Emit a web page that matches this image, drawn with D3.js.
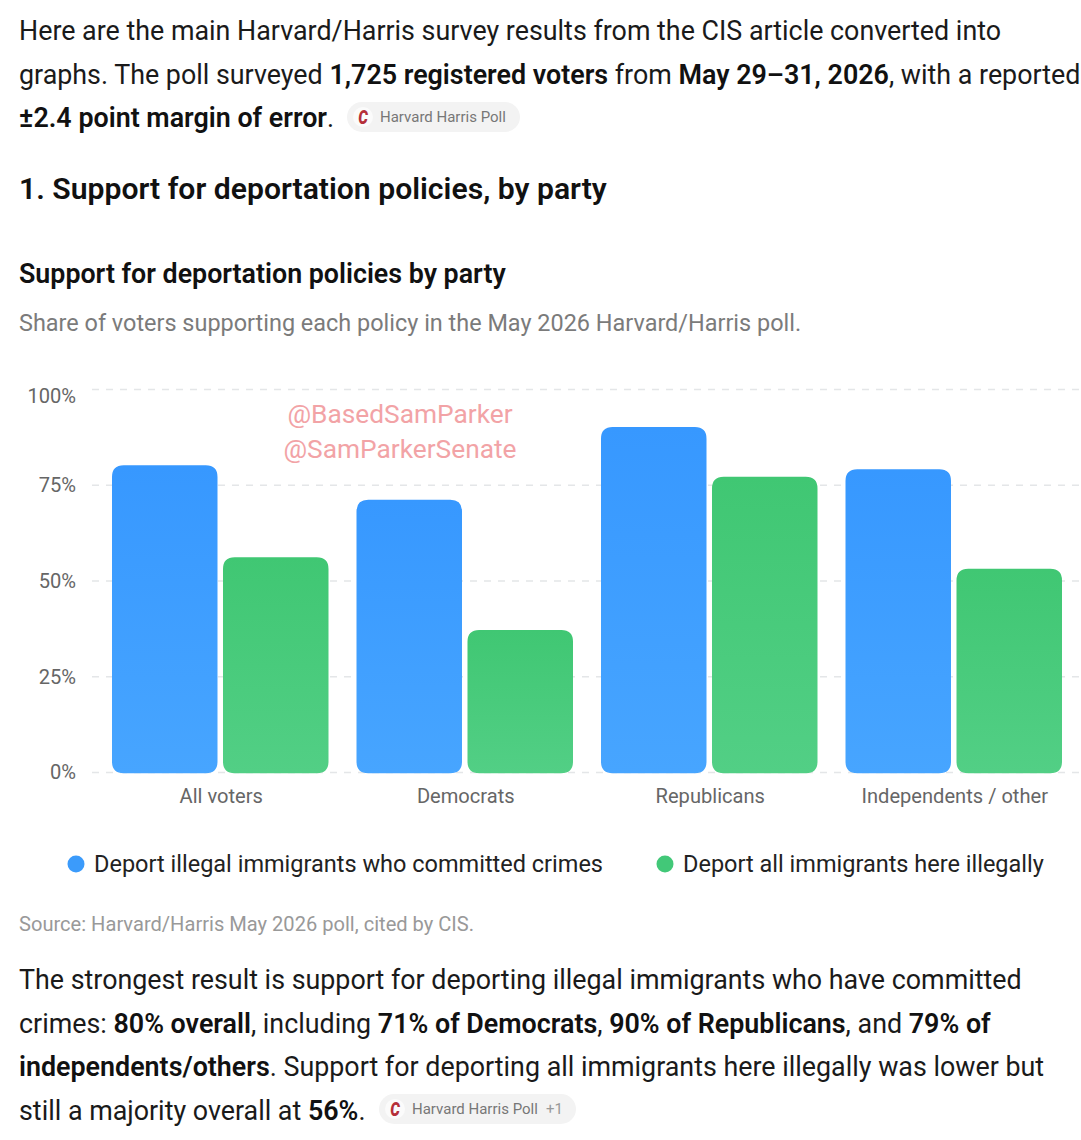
<!DOCTYPE html>
<html>
<head>
<meta charset="utf-8">
<script src="https://cdn.jsdelivr.net/npm/d3@7"></script>
<style>
  html, body { margin: 0; padding: 0; background: #fff; }
  svg { display: block; font-family: Roboto, sans-serif; }
  .para { font-size: 26.85px; fill: #1a1a1a; }
  .para .b { font-weight: 600; fill: #111; }
  .grid line { stroke: #e4e6e8; stroke-width: 1.5; stroke-dasharray: 7 7; }
  .tick-lab { font-size: 20.1px; fill: #666; }
  .chip-lab { font-size: 15px; fill: #777; }
</style>
</head>
<body>
<div id="chart"></div>
<script>
const categories = ["All voters", "Democrats", "Republicans", "Independents / other"];
const seriesNames = ["Deport illegal immigrants who committed crimes", "Deport all immigrants here illegally"];
const deportCriminals = [80, 71, 90, 79];
const deportAll = [56, 37, 77, 53];
const yTicks = [0, 25, 50, 75, 100];

const introLines = [
  [["Here are the main Harvard/Harris survey results from the CIS article converted into", 0]],
  [["graphs. The poll surveyed ", 0], ["1,725 registered voters", 1], [" from ", 0], ["May 29\u201331, 2026", 1], [", with a reported", 0]],
  [["\u00b12.4 point margin of error", 1], [".", 0]]
];
const outroLines = [
  [["The strongest result is support for deporting illegal immigrants who have committed", 0]],
  [["crimes: ", 0], ["80% overall", 1], [", including ", 0], ["71% of Democrats", 1], [", ", 0], ["90% of Republicans", 1], [", and ", 0], ["79% of", 1]],
  [["independents/others", 1], [". Support for deporting all immigrants here illegally was lower but", 0]],
  [["still a majority overall at ", 0], ["56%", 1], [".", 0]]
];

const width = 1081, height = 1140;
const svg = d3.select("#chart").append("svg").attr("width", width).attr("height", height);

const defs = svg.append("defs");
function addGrad(id, top, bottom) {
  const g = defs.append("linearGradient").attr("id", id).attr("x1", 0).attr("x2", 0).attr("y1", 0).attr("y2", 1);
  g.append("stop").attr("offset", "0%").attr("stop-color", top);
  g.append("stop").attr("offset", "100%").attr("stop-color", bottom);
}
addGrad("blueGrad", "#3798ff", "#47a5ff");
addGrad("greenGrad", "#40c773", "#52cf85");

function writeLines(lines, x, y0, step) {
  lines.forEach(function (parts, i) {
    const t = svg.append("text").attr("class", "para").attr("x", x).attr("y", y0 + i * step);
    parts.forEach(function (p) {
      t.append("tspan").attr("class", p[1] ? "b" : null).text(p[0]);
    });
  });
}
writeLines(introLines, 19, 40, 43.7);
writeLines(outroLines, 19, 988.8, 43.7);

// source chips
function chip(x, y, w, label, extra) {
  const g = svg.append("g").attr("transform", "translate(" + x + "," + y + ")");
  g.append("rect").attr("width", w).attr("height", 30).attr("rx", 15).attr("fill", "#f3f3f3");
  g.append("circle").attr("cx", 16).attr("cy", 15).attr("r", 10).attr("fill", "#fbfbfb");
  g.append("text").attr("transform", "translate(16,21.5) scale(0.72,1)").attr("text-anchor", "middle")
    .attr("font-size", 21).attr("font-weight", 900).attr("font-style", "italic").attr("fill", "#b5303a").text("C");
  g.append("text").attr("class", "chip-lab").attr("x", 33).attr("y", 20).text(label);
  if (extra) g.append("text").attr("class", "chip-lab").attr("x", w - 30).attr("y", 20).style("fill", "#999").text(extra);
}
chip(347, 102, 173, "Harvard Harris Poll");
chip(379, 1094, 197, "Harvard Harris Poll", "+1");

svg.append("text").attr("x", 19).attr("y", 199).attr("font-size", 30.15).attr("font-weight", 600).attr("fill", "#111")
  .text("1. Support for deportation policies, by party");
svg.append("text").attr("x", 19).attr("y", 282.5).attr("font-size", 26.8).attr("font-weight", 600).attr("fill", "#111")
  .text("Support for deportation policies by party");
svg.append("text").attr("x", 19).attr("y", 331).attr("font-size", 23.45).attr("fill", "#7b7b7b")
  .text("Share of voters supporting each policy in the May 2026 Harvard/Harris poll.");

// scales
const x0 = d3.scaleBand().domain(categories).range([98, 1076]);
const x1 = d3.scaleBand().domain(seriesNames).range([14.75, x0.bandwidth() - 14.75]).paddingInner(0.063);
const y = d3.scaleLinear().domain([0, 100]).range([772.5, 389.5]);

svg.append("g").attr("class", "grid").selectAll("line").data(yTicks).enter().append("line")
  .attr("x1", 92).attr("x2", 1081).attr("y1", d => y(d)).attr("y2", d => y(d));

svg.append("g").selectAll("text").data(yTicks).enter().append("text")
  .attr("class", "tick-lab").attr("text-anchor", "end").attr("x", 76)
  // top label sits inside the plot, same as the source chart
  .attr("y", d => y(d) + (d === 100 ? 13 : 6.8))
  .text(d => d + "%");

svg.append("g").selectAll("text").data(categories).enter().append("text")
  .attr("class", "tick-lab").attr("text-anchor", "middle")
  .attr("x", d => x0(d) + x0.bandwidth() / 2 + 1).attr("y", 803)
  .text(d => d);

function topRounded(x, yTop, w, yBase, r) {
  const p = d3.path();
  p.moveTo(x + r, yTop);
  p.lineTo(x + w - r, yTop);
  p.quadraticCurveTo(x + w, yTop, x + w, yTop + r);
  p.lineTo(x + w, yBase - r);
  p.quadraticCurveTo(x + w, yBase, x + w - r, yBase);
  p.lineTo(x + r, yBase);
  p.quadraticCurveTo(x, yBase, x, yBase - r);
  p.lineTo(x, yTop + r);
  p.quadraticCurveTo(x, yTop, x + r, yTop);
  p.closePath();
  return p.toString();
}

function drawSeries(name, values, grad) {
  svg.append("g").selectAll("path").data(values).enter().append("path")
    .attr("fill", "url(#" + grad + ")")
    .attr("stroke", "url(#" + grad + ")")
    .attr("stroke-width", 1.5)
    .attr("d", (d, i) => topRounded(x0(categories[i]) + x1(name), y(d), x1.bandwidth(), y(0), 11));
}
drawSeries(seriesNames[0], deportCriminals, "blueGrad");
drawSeries(seriesNames[1], deportAll, "greenGrad");

// legend
const legendX = [76, 665];
const legendColors = ["#3b9bfb", "#42c878"];
seriesNames.forEach(function (name, i) {
  svg.append("circle").attr("cx", legendX[i]).attr("cy", 864).attr("r", 8.5).attr("fill", legendColors[i]);
  svg.append("text").attr("x", legendX[i] + 18).attr("y", 871.5).attr("font-size", 23.5).attr("fill", "#222").text(name);
});

svg.append("text").attr("x", 19).attr("y", 931).attr("font-size", 20.1).attr("fill", "#999")
  .text("Source: Harvard/Harris May 2026 poll, cited by CIS.");

// handles over the chart
svg.append("text").attr("x", 400).attr("y", 423).attr("text-anchor", "middle").attr("font-size", 26.3).attr("fill", "#f2a3a6").text("@BasedSamParker");
svg.append("text").attr("x", 400).attr("y", 458).attr("text-anchor", "middle").attr("font-size", 26.3).attr("fill", "#f2a3a6").text("@SamParkerSenate");
</script>
</body>
</html>
